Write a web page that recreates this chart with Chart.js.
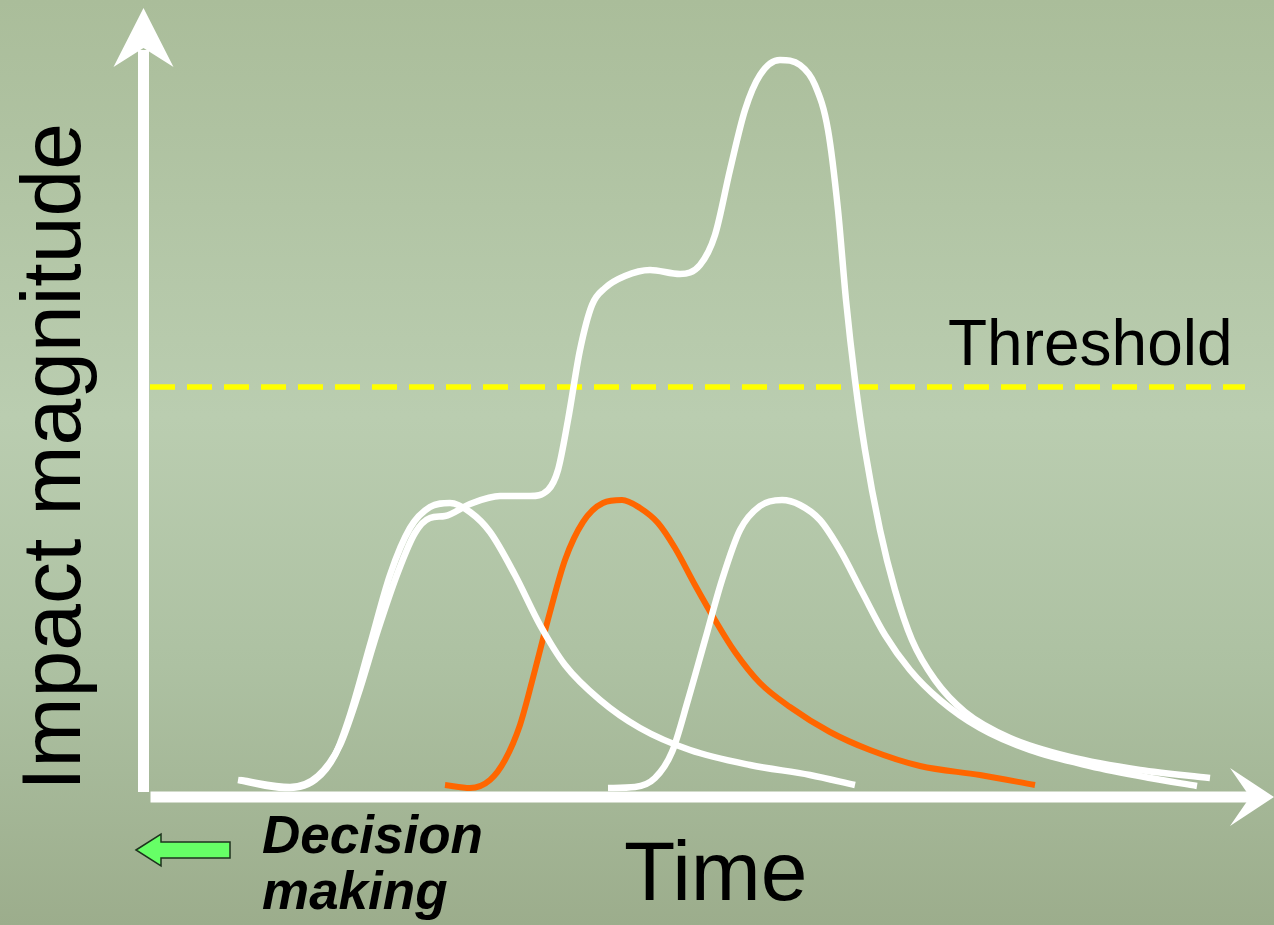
<!DOCTYPE html>
<html>
<head>
<meta charset="utf-8">
<script src="https://cdn.jsdelivr.net/npm/chart.js@4/dist/chart.umd.min.js"></script>
<style>
  html, body { margin: 0; padding: 0; background: #aabd9a; }
  #wrap { width: 1274px; height: 925px; }
</style>
</head>
<body>
<div id="wrap"><canvas id="impact" width="1274" height="925"></canvas></div>
<script>
// time / magnitude samples (arbitrary units)
const timeA = [8.8, 13.5, 16.5, 18.5, 20, 22, 24, 26, 28, 30, 32, 34, 36.5, 39, 41.5, 45, 49, 54, 60, 66, 70.5];
const magA = [1.5, 0.7, 1.5, 4, 8, 15, 22, 26.7, 28.8, 29.2, 28.3, 26.3, 22, 17, 13, 9.5, 6.7, 4.5, 3, 2, 1];

const timeB = [9, 14, 16.8, 19, 20.8, 22.8, 24.8, 26.5, 28, 29.5, 32, 35, 38, 39.8, 40.8, 41.8, 43, 44.2, 45.5, 47.5,
  50, 53, 55, 56.5, 58, 59.5, 61, 63, 65, 66.5, 67.8, 68.8, 69.6, 70.5, 71.5, 73, 74.5, 76.2, 78.5, 81.5, 86, 92, 99, 106];
const magB = [1.5, 0.8, 1.9, 5, 10, 16.5, 22.3, 26.2, 27.7, 27.9, 29.1, 29.9, 29.9, 30.5, 32.5, 37.5, 44.5, 49, 50.7, 51.9,
  52.5, 52.1, 53, 56, 62.5, 68.5, 72, 73.5, 73, 71, 66.5, 58.5, 49.5, 41.5, 34.5, 26.5, 20.5, 15.5, 11.5, 8.3, 5.7, 3.8, 2.5, 1.7];

const timeC = [29.5, 32, 34, 35.5, 37, 38.5, 40, 41.5, 43.3, 45.3, 47.2, 49, 50.8, 52.5, 54.5, 56.5, 58.5, 61, 64, 68, 72, 77, 83, 88.5];
const magC = [1, 0.7, 1.5, 3.5, 7, 12.5, 18.3, 23.5, 27.3, 29.2, 29.5, 28.7, 27.2, 24.7, 21, 17.5, 14.3, 11.2, 8.8, 6.3, 4.5, 2.9, 2, 1];

const timeD = [45.8, 48.5, 50.5, 52.2, 53.8, 55.5, 57.2, 59, 61, 63.2, 65, 67, 69, 71.2, 73.5, 76, 79, 83, 88, 94, 100, 104.7];
const magD = [0.7, 0.8, 1.7, 4.3, 9.5, 15.5, 21.5, 26.5, 28.9, 29.5, 29, 27.5, 24.5, 20.3, 16, 12.5, 9.5, 6.7, 4.5, 2.9, 1.7, 0.9];

const thresholdTime = [0, 109.5];
const thresholdLevel = 40.8;

function pts(ts, ms) {
  return ts.map((t, i) => ({ x: t, y: ms[i] }));
}

function curve(ts, ms, color, w) {
  return {
    data: pts(ts, ms),
    borderColor: color,
    borderWidth: w,
    showLine: true,
    pointRadius: 0,
    cubicInterpolationMode: "monotone",
    fill: false,
  };
}

const background = {
  id: "background",
  beforeDraw(chart) {
    const ctx = chart.ctx;
    const g = ctx.createLinearGradient(0, 0, 0, chart.height);
    g.addColorStop(0, "#aabd9a");
    g.addColorStop(0.45, "#bacdb0");
    g.addColorStop(0.72, "#adc1a2");
    g.addColorStop(1, "#9cad8c");
    ctx.save();
    ctx.fillStyle = g;
    ctx.fillRect(0, 0, chart.width, chart.height);
    ctx.restore();
  },
};

// white axes with notched arrow heads, plus the labels
const axes = {
  id: "axes",
  beforeDatasetsDraw(chart) {
    const ctx = chart.ctx;
    const xs = chart.scales.x;
    const ys = chart.scales.y;
    const ax = xs.getPixelForValue(-0.65);
    const ay = ys.getPixelForValue(-0.2);
    const topTip = ys.getPixelForValue(78.7);
    const rightTip = xs.getPixelForValue(112.4);

    ctx.save();
    ctx.fillStyle = "#ffffff";
    // vertical axis
    ctx.fillRect(ax - 5.5, topTip + 42, 11, ay - 5 - (topTip + 42));
    ctx.beginPath();
    ctx.moveTo(ax, topTip);
    ctx.lineTo(ax + 30, topTip + 59);
    ctx.lineTo(ax, topTip + 40);
    ctx.lineTo(ax - 30, topTip + 59);
    ctx.closePath();
    ctx.fill();
    // horizontal axis
    ctx.fillRect(ax + 7, ay - 5.5, rightTip - 22 - (ax + 7), 11);
    ctx.beginPath();
    ctx.moveTo(rightTip, ay);
    ctx.lineTo(rightTip - 44, ay - 29);
    ctx.lineTo(rightTip - 24, ay);
    ctx.lineTo(rightTip - 44, ay + 29);
    ctx.closePath();
    ctx.fill();

    // labels
    ctx.fillStyle = "#000000";
    ctx.textBaseline = "alphabetic";
    ctx.font = '84px "Liberation Sans", Arial, sans-serif';
    ctx.save();
    ctx.translate(80, 457);
    ctx.rotate(-Math.PI / 2);
    ctx.textAlign = "center";
    ctx.fillText("Impact magnitude", 0, 0);
    ctx.restore();

    ctx.textAlign = "left";
    ctx.font = '64px "Liberation Sans", Arial, sans-serif';
    ctx.fillText("Threshold", 948, 365);
    ctx.font = '84px "Liberation Sans", Arial, sans-serif';
    ctx.fillText("Time", 624, 900);
    ctx.font = 'italic bold 53px "Liberation Sans", Arial, sans-serif';
    ctx.fillText("Decision", 262, 853);
    ctx.fillText("making", 262, 909);

    // green decision arrow
    ctx.beginPath();
    ctx.moveTo(136, 850);
    ctx.lineTo(161, 834);
    ctx.lineTo(161, 842);
    ctx.lineTo(230, 842);
    ctx.lineTo(230, 858);
    ctx.lineTo(161, 858);
    ctx.lineTo(161, 866);
    ctx.closePath();
    ctx.fillStyle = "#66ff66";
    ctx.fill();
    ctx.strokeStyle = "#1e321e";
    ctx.lineWidth = 1.5;
    ctx.stroke();
    ctx.restore();
  },
};

new Chart(document.getElementById("impact"), {
  type: "scatter",
  data: {
    datasets: [
      curve(timeB, magB, "#ffffff", 6.5),
      curve(timeA, magA, "#ffffff", 6.5),
      curve(timeD, magD, "#ffffff", 6.5),
      curve(timeC, magC, "#ff6600", 6),
      {
        data: thresholdTime.map((t) => ({ x: t, y: thresholdLevel })),
        borderColor: "#ffff00",
        borderWidth: 5.5,
        borderDash: [25, 12],
        showLine: true,
        pointRadius: 0,
      },
    ],
  },
  options: {
    responsive: false,
    animation: false,
    devicePixelRatio: 1,
    layout: { padding: { left: 150, right: 24, top: 15, bottom: 130 } },
    plugins: { legend: { display: false }, tooltip: { enabled: false } },
    scales: {
      x: { type: "linear", min: 0, max: 110, display: false },
      y: { type: "linear", min: 0, max: 78, display: false },
    },
  },
  plugins: [background, axes],
});
</script>
</body>
</html>
